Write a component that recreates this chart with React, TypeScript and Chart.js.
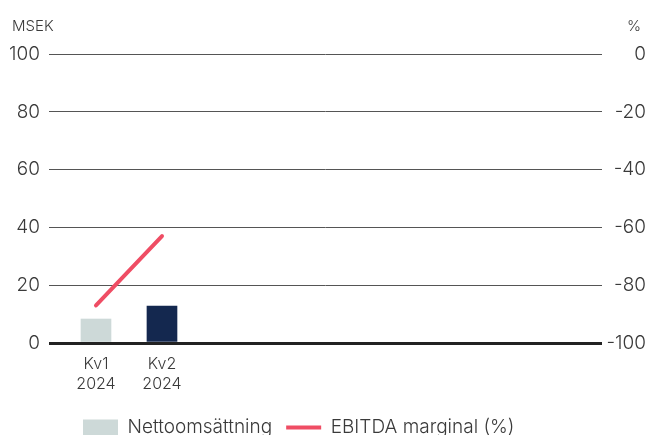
import React, { useEffect, useRef } from 'react';
import { Chart, registerables } from 'chart.js';

Chart.register(...registerables);

// Data
const quarters = ['Kv1 2024', 'Kv2 2024'];
const quarterIndex = [0, 1];
const netSales = [8.3, 12.8]; // MSEK
const ebitdaMargin = [-87, -63]; // %
const leftTickLabels = [0, 20, 40, 60, 80, 100];
const rightTickLabels = [-100, -80, -60, -40, -20, 0];
const seriesNames = ['Nettoomsättning', 'EBITDA marginal (%)'];
const barColors = ['#cdd9d8', '#14284f'];
const lineColor = '#ef4d64';

const FONT = 'Inter';
const TEXT = '#3a3a3a';
const LEGEND_PAD = 14;

const axisTitles = {
  id: 'axisTitles',
  afterDraw(chart: any) {
    const { ctx, chartArea } = chart;
    ctx.save();
    ctx.font = `300 15px ${FONT}`;
    ctx.fillStyle = TEXT;
    ctx.textBaseline = 'alphabetic';
    ctx.textAlign = 'left';
    ctx.fillText('MSEK', 12, chartArea.top - 23);
    ctx.textAlign = 'right';
    ctx.fillText('%', 641, chartArea.top - 23);
    ctx.restore();
  },
};

const legendShift = {
  id: 'legendShift',
  afterLayout(chart: any) {
    const lg = chart.legend;
    if (lg) {
      const w = lg.right - lg.left;
      lg.left = 83 - LEGEND_PAD;
      lg.right = lg.left + w;
    }
  },
};

export default function App() {
  const ref = useRef<HTMLCanvasElement | null>(null);

  useEffect(() => {
    document.body.style.margin = '0';
    document.body.style.overflow = 'hidden';
    const canvas = ref.current;
    if (!canvas) return;
    const chart = new Chart(canvas, {
      type: 'bar',
      data: {
        datasets: [
          {
            type: 'bar',
            label: seriesNames[0],
            data: quarterIndex.map((x, i) => ({ x, y: netSales[i] })),
            backgroundColor: barColors,
            borderWidth: 0,
            barThickness: 30,
            yAxisID: 'y',
            pointStyle: 'rect',
            order: 2,
          } as any,
          {
            type: 'line',
            label: seriesNames[1],
            data: quarterIndex.map((x, i) => ({ x, y: ebitdaMargin[i] })),
            borderColor: lineColor,
            backgroundColor: lineColor,
            borderWidth: 4,
            borderCapStyle: 'round',
            pointRadius: 0,
            pointStyle: 'line',
            yAxisID: 'y1',
            order: 1,
          } as any,
        ],
      },
      options: {
        responsive: false,
        animation: false,
        layout: { padding: { top: 54, bottom: 3, left: 0, right: 0 } },
        plugins: {
          tooltip: { enabled: false },
          legend: {
            position: 'bottom',
            align: 'start',
            labels: {
              usePointStyle: true,
              pointStyleWidth: 35,
              boxHeight: 16,
              padding: LEGEND_PAD,
              color: TEXT,
              font: { family: FONT, size: 19, weight: '300' as any },
              sort: (a: any, b: any) => a.datasetIndex - b.datasetIndex,
            },
          },
        },
        scales: {
          x: {
            type: 'linear',
            offset: false,
            min: -0.712,
            max: 7.667,
            grid: { display: false, offset: false },
            border: { display: false },
            afterFit: (s: any) => {
              s.height = 61;
            },
            afterBuildTicks: (s: any) => {
              s.ticks = quarterIndex.map((v) => ({ value: v }));
            },
            ticks: {
              autoSkip: false,
              maxRotation: 0,
              padding: 4,
              color: TEXT,
              font: { family: FONT, size: 16, weight: '300' as any, lineHeight: 1.2 },
              callback: (v: any) => {
                const n = Math.round(Number(v));
                return quarters[n] ? quarters[n].split(' ') : '';
              },
            },
          },
          y: {
            position: 'left',
            min: leftTickLabels[0],
            max: leftTickLabels[leftTickLabels.length - 1],
            afterFit: (s: any) => {
              s.width = 49;
            },
            border: { display: false },
            grid: {
              drawTicks: false,
              color: (c: any) => (c.tick && c.tick.value === 0 ? '#222222' : '#555555'),
              lineWidth: (c: any) => (c.tick && c.tick.value === 0 ? 3 : 1),
            },
            ticks: {
              stepSize: 20,
              padding: 9,
              color: TEXT,
              font: { family: FONT, size: 19, weight: '300' as any },
            },
          },
          y1: {
            position: 'right',
            min: rightTickLabels[0],
            max: rightTickLabels[rightTickLabels.length - 1],
            afterFit: (s: any) => {
              s.width = 44;
            },
            border: { display: false },
            grid: { display: false, drawTicks: false },
            ticks: {
              stepSize: 20,
              padding: 5,
              crossAlign: 'far',
              color: TEXT,
              font: { family: FONT, size: 19, weight: '300' as any },
            },
          },
        },
      },
      plugins: [axisTitles, legendShift],
    });
    return () => chart.destroy();
  }, []);

  return (
    <div style={{ width: 646, height: 450, position: 'relative' }}>
      <canvas ref={ref} width={646} height={450} style={{ display: 'block' }} />
    </div>
  );
}
